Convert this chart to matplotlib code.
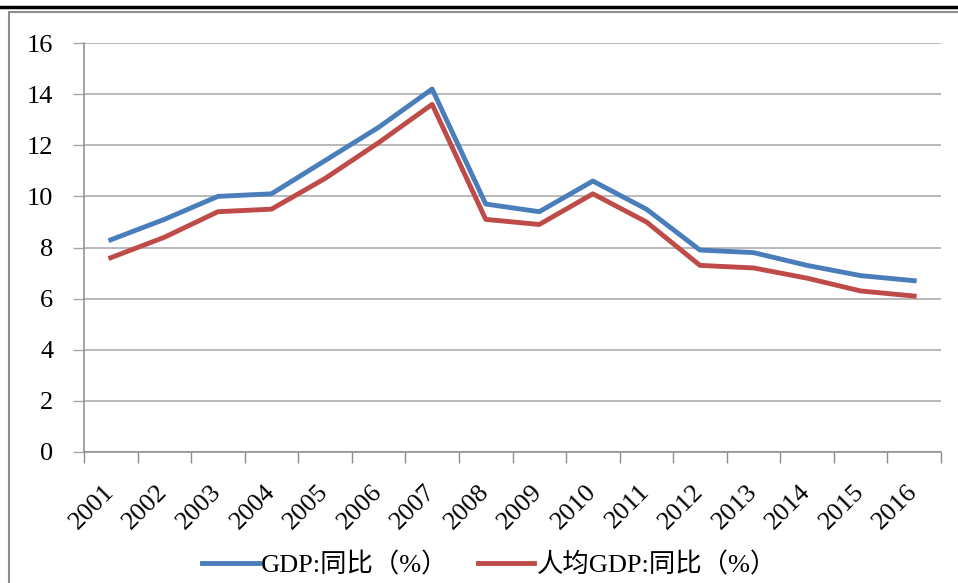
import matplotlib
matplotlib.use("Agg")
import matplotlib.pyplot as plt
from matplotlib.lines import Line2D
from matplotlib.patches import Rectangle

plt.rcParams['font.family'] = ['Liberation Serif', 'Noto Sans CJK SC']

years = ['2001', '2002', '2003', '2004', '2005', '2006', '2007', '2008',
         '2009', '2010', '2011', '2012', '2013', '2014', '2015', '2016']
gdp_yoy = [8.3, 9.1, 10.0, 10.1, 11.4, 12.7, 14.2, 9.7,
           9.4, 10.6, 9.5, 7.9, 7.8, 7.3, 6.9, 6.7]
gdp_pc_yoy = [7.6, 8.4, 9.4, 9.5, 10.7, 12.1, 13.6, 9.1,
              8.9, 10.1, 9.0, 7.3, 7.2, 6.8, 6.3, 6.1]
series_names = ['GDP:同比（%）', '人均GDP:同比（%）']
y_ticks = [0, 2, 4, 6, 8, 10, 12, 14, 16]

W, H = 958, 583
fs = 19
fig = plt.figure(figsize=(W / 100, H / 100), dpi=100)

# outer frame: thick black top rule plus gray chart border
fig.add_artist(Line2D([0, 1], [1 - 7 / H, 1 - 7 / H], transform=fig.transFigure,
                      color='black', lw=2.5))
fig.add_artist(Rectangle((9 / W, -0.05), 1, 1 - 12 / H + 0.05, transform=fig.transFigure,
                         facecolor='none', edgecolor='#8c8c8c', lw=1.5))

ax = fig.add_axes([84 / W, 1 - 452 / H, (941 - 84) / W, (452 - 43) / H])

x = list(range(len(years)))
ax.plot(x, gdp_yoy, color='#4a7ebb', lw=3.5, label=series_names[0], solid_joinstyle='round')
ax.plot(x, gdp_pc_yoy, color='#be4b48', lw=3.5, label=series_names[1], solid_joinstyle='round')

ax.set_xlim(-0.5, len(years) - 0.5)
ax.set_ylim(0, 16)
ax.set_yticks(y_ticks)
ax.set_yticklabels([str(v) for v in y_ticks], fontsize=fs)
ax.grid(axis='y', color='#a6a6a6', lw=1.1)
ax.set_axisbelow(True)

# category axis: ticks between categories, labels at centres
ax.set_xticks([i - 0.5 for i in range(len(years) + 1)])
ax.set_xticklabels([])
ax.set_xticks(x, minor=True)
ax.set_xticklabels(years, minor=True, rotation=45, ha='right', va='center',
                   rotation_mode='anchor', fontsize=fs)
ax.tick_params(axis='x', which='minor', length=0, pad=26)
ax.tick_params(axis='x', which='major', length=8, color='#8c8c8c', width=1)
ax.tick_params(axis='y', length=8, color='#a6a6a6', width=1, pad=14)

for side in ['top', 'right']:
    ax.spines[side].set_visible(False)
for side in ['left', 'bottom']:
    ax.spines[side].set_color('#8c8c8c')
    ax.spines[side].set_linewidth(1.1)

fig.legend(loc='center', bbox_to_anchor=(0.511, 1 - 565 / H), ncol=2, frameon=False,
           fontsize=fs, handlelength=2.15, handletextpad=0.1, columnspacing=1.1)

fig.savefig('out.png', dpi=100)
